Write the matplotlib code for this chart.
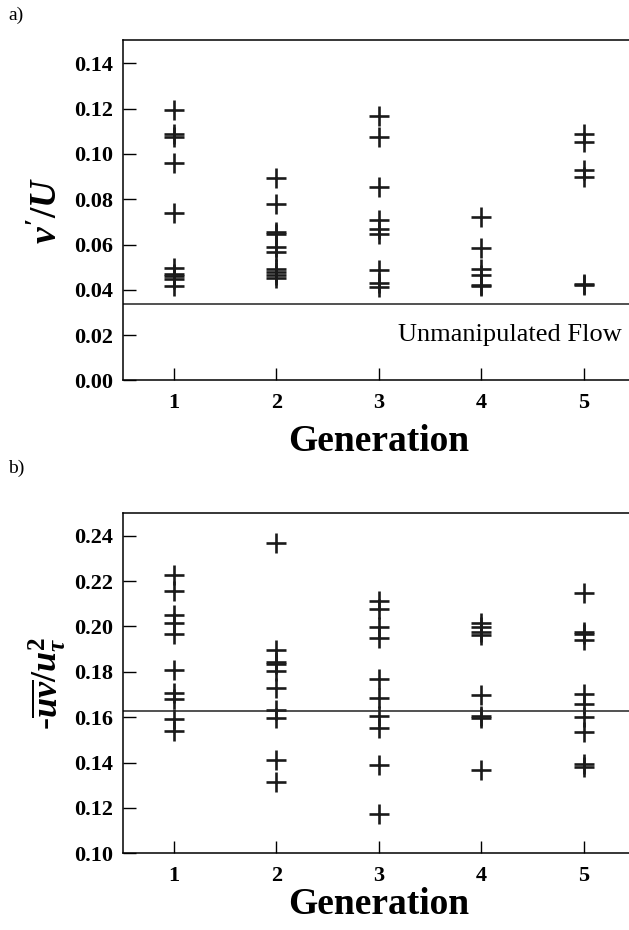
import numpy as np
import matplotlib
matplotlib.use('Agg')
import matplotlib.pyplot as plt

plt.rcParams['font.family'] = ['Liberation Serif', 'DejaVu Serif']
plt.rcParams['mathtext.fontset'] = 'custom'
plt.rcParams['mathtext.rm'] = 'Liberation Serif:bold'
plt.rcParams['mathtext.it'] = 'Liberation Serif:bold:italic'
plt.rcParams['mathtext.bf'] = 'Liberation Serif:bold'

# Panel a) v'/U per generation
gen1_v = [0.1192, 0.1088, 0.1076, 0.0960, 0.0738, 0.0495, 0.0472, 0.0460, 0.0450, 0.0418]
gen2_v = [0.0895, 0.0778, 0.0655, 0.0645, 0.0590, 0.0565, 0.0490, 0.0478, 0.0465, 0.0452]
gen3_v = [0.1168, 0.1074, 0.0855, 0.0708, 0.0670, 0.0646, 0.0488, 0.0429, 0.0412]
gen4_v = [0.0720, 0.0583, 0.0491, 0.0466, 0.0422, 0.0415]
gen5_v = [0.1086, 0.1051, 0.0928, 0.0899, 0.0428, 0.0422]
unmanip_v = 0.0336

# Panel b) -uv/u_tau^2 per generation
gen1_uv = [0.2227, 0.2154, 0.2051, 0.2014, 0.1965, 0.1808, 0.1708, 0.1682, 0.1591, 0.1541]
gen2_uv = [0.2367, 0.1896, 0.1841, 0.1835, 0.1805, 0.1727, 0.1632, 0.1595, 0.1411, 0.1313]
gen3_uv = [0.2110, 0.2076, 0.1999, 0.1948, 0.1767, 0.1683, 0.1605, 0.1551, 0.1389, 0.1173]
gen4_uv = [0.2017, 0.1999, 0.1977, 0.1960, 0.1698, 0.1605, 0.1595, 0.1367]
gen5_uv = [0.2149, 0.1974, 0.1967, 0.1941, 0.1702, 0.1657, 0.1600, 0.1533, 0.1392, 0.1382]
unmanip_uv = 0.1629

generations = [1, 2, 3, 4, 5]
yticks_a = [0.00, 0.02, 0.04, 0.06, 0.08, 0.10, 0.12, 0.14]
yticks_b = [0.10, 0.12, 0.14, 0.16, 0.18, 0.20, 0.22, 0.24]


def style_axes(ax, yticks, ylim, xpad):
    ax.set_xlim(0.5, 5.5)
    ax.set_ylim(*ylim)
    ax.set_xticks(generations)
    ax.set_xticklabels([str(g) for g in generations], fontweight='bold', fontsize=16)
    ax.set_yticks(yticks)
    ax.set_yticklabels(['%.2f' % t for t in yticks], fontweight='bold', fontsize=16)
    ax.tick_params(direction='in', length=9, width=1, right=False, top=False)
    ax.tick_params(axis='y', pad=7)
    ax.tick_params(axis='x', pad=9)
    ax.spines['right'].set_visible(False)
    for s in ['left', 'bottom', 'top']:
        ax.spines[s].set_linewidth(1.1)
    ax.set_xlabel('Generation', fontsize=27, fontweight='bold', labelpad=xpad)


def plot_gens(ax, series):
    for g, vals in zip(generations, series):
        ax.plot([g] * len(vals), vals, linestyle='none', marker='+',
                markersize=14, markeredgewidth=1.9, color='#1a1a1a')


fig = plt.figure(figsize=(6.29, 9.30), dpi=100)

ax1 = fig.add_axes([0.1948, 0.5909, 0.8148, 0.3661])
plot_gens(ax1, [gen1_v, gen2_v, gen3_v, gen4_v, gen5_v])
ax1.axhline(unmanip_v, color='#222222', linewidth=1.1)
style_axes(ax1, yticks_a, (0.0, 0.1503), 8)
ax1.set_ylabel(r"$v'/U$", fontsize=27, labelpad=6)
ax1.text(622 / 629, 1 - 335 / 930, 'Unmanipulated Flow', transform=fig.transFigure,
         ha='right', va='center', fontsize=19)

ax2 = fig.add_axes([0.1948, 0.0825, 0.8148, 0.3662])
plot_gens(ax2, [gen1_uv, gen2_uv, gen3_uv, gen4_uv, gen5_uv])
ax2.axhline(unmanip_uv, color='#222222', linewidth=1.1)
style_axes(ax2, yticks_b, (0.10, 0.2501), 1)
ax2.set_ylabel(r"-$\overline{uv}/u_\tau^2$", fontsize=26, labelpad=4)

fig.text(8 / 629, 1 - 15 / 930, 'a)', fontsize=14, va='center', ha='left')
fig.text(8 / 629, 1 - 468 / 930, 'b)', fontsize=14, va='center', ha='left')

fig.savefig('out.png', dpi=100)
